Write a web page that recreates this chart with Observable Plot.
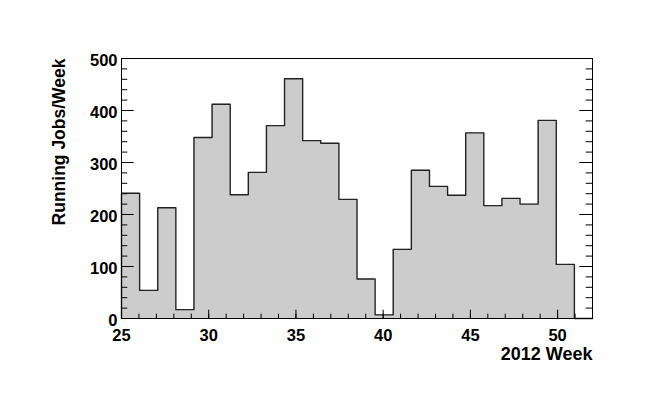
<!DOCTYPE html>
<html><head><meta charset="utf-8">
<script src="https://cdn.jsdelivr.net/npm/d3@7"></script>
<script src="https://cdn.jsdelivr.net/npm/@observablehq/plot@0.6"></script>
<style>html,body{margin:0;padding:0;background:#fff} svg{display:block}</style>
</head><body><div id="chart"></div>
<script>
// Histogram range (weeks) and per-bin counts (26 bins spanning 25..52, last empty)
const weekMin = 25;
const weekMax = 52;
const runningJobs = [241, 54, 213, 17, 348, 412, 238, 281, 371, 461, 342, 337, 229, 76, 7, 133, 285, 254, 237, 357, 217, 231, 220, 381, 104, 0];
const xTickLabels = [25, 30, 35, 40, 45, 50];
const yTickLabels = [0, 100, 200, 300, 400, 500];
const xTitle = "2012 Week";
const yTitle = "Running Jobs/Week";

const W = 654, H = 414, mL = 121, mR = 62, mT = 58, mB = 96;
const innerW = W - mL - mR, innerH = H - mT - mB;

const nBins = runningJobs.length;
const binWidth = (weekMax - weekMin) / nBins;
const outline = [{x: weekMin, y: 0}, ...runningJobs.map((v, i) => ({x: weekMin + i * binWidth, y: v})), {x: weekMax, y: runningJobs[nBins - 1]}];

const xMinor = d3.range(weekMin, weekMax + 0.001, 1);
const yMinor = d3.range(0, 500.001, 20);

const chart = Plot.plot({
  width: W, height: H,
  marginLeft: mL, marginRight: mR, marginTop: mT, marginBottom: mB,
  style: {fontFamily: "'Liberation Sans', Arial, Helvetica, sans-serif", fontWeight: "bold", fontSize: "16.5px", color: "black", background: "white"},
  x: {domain: [weekMin, weekMax]},
  y: {domain: [0, 500]},
  marks: [
    Plot.areaY(outline, {x: "x", y: "y", curve: "step-after", fill: "#cccccc"}),
    Plot.line(outline, {x: "x", y: "y", curve: "step-after", stroke: "#222", strokeWidth: 1.4}),
    Plot.tickX(xMinor, {x: d => d, insetTop: innerH - 4.3, stroke: "black", strokeWidth: 1}),
    Plot.tickX(xTickLabels, {x: d => d, insetTop: innerH - 8.3, stroke: "black", strokeWidth: 1}),
    Plot.tickY(yMinor, {y: d => d, insetRight: innerW - 6.3, stroke: "black", strokeWidth: 1}),
    Plot.tickY(yTickLabels, {y: d => d, insetRight: innerW - 12.7, stroke: "black", strokeWidth: 1}),
    Plot.tickY(yMinor, {y: d => d, insetLeft: innerW - 6.3, stroke: "black", strokeWidth: 1}),
    Plot.tickY(yTickLabels, {y: d => d, insetLeft: innerW - 12.7, stroke: "black", strokeWidth: 1}),
    Plot.frame({stroke: "black", strokeWidth: 1}),
    Plot.axisX(xTickLabels, {tickSize: 0, tickPadding: 11, label: null, fontSize: 16.5}),
    Plot.axisY(yTickLabels, {tickSize: 0, tickPadding: 4, dy: 2.5, label: null, fontSize: 16.5}),
    Plot.text([xTitle], {frameAnchor: "bottom-right", textAnchor: "end", lineAnchor: "middle", dy: 35.5, fontSize: 18}),
    Plot.text([yTitle], {frameAnchor: "top-left", textAnchor: "end", lineAnchor: "middle", rotate: -90, dx: -62.5, fontSize: 17.5})
  ]
});
document.getElementById("chart").appendChild(chart);
</script>
</body></html>
